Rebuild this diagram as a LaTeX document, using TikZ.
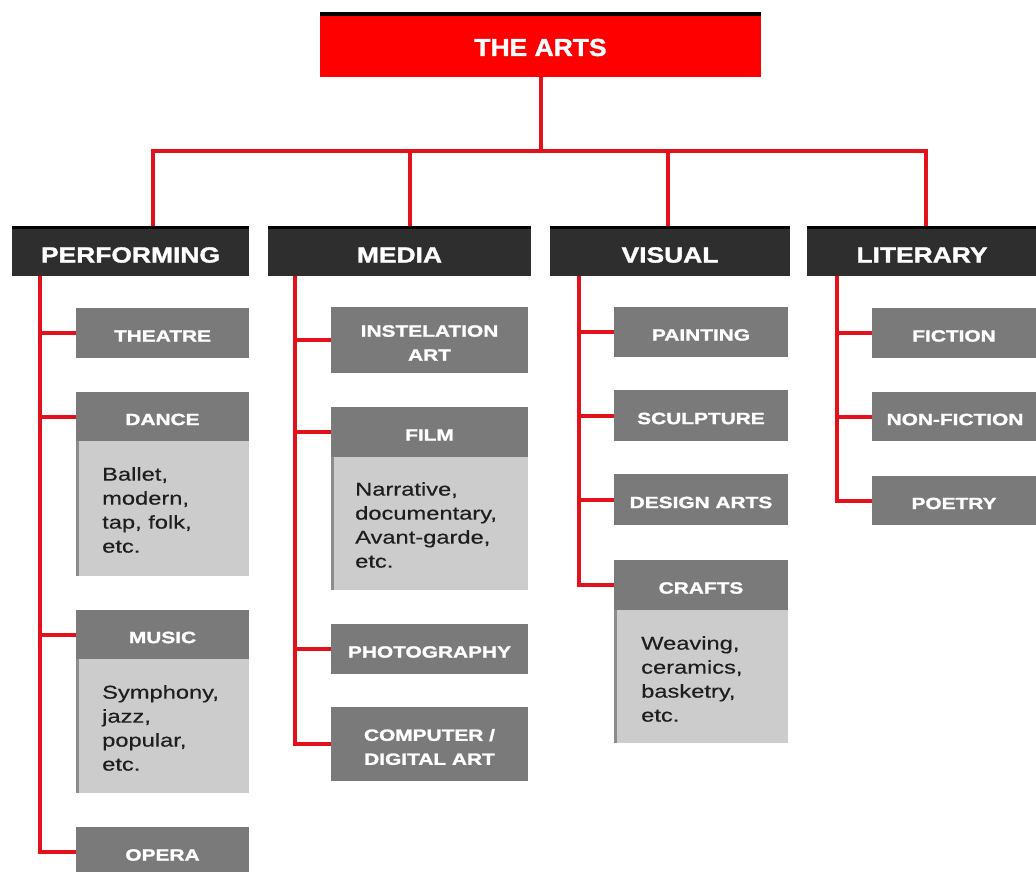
\documentclass[tikz,border=0pt]{standalone}
\usepackage{fontspec}
\setmainfont{Liberation Sans}
\newfontfamily\titlefont[FakeStretch=1.08,BoldFeatures={FakeBold=1.5}]{Liberation Sans}
\newfontfamily\catfont[FakeStretch=1.2,BoldFeatures={FakeBold=1.5}]{Liberation Sans}
\newfontfamily\subfont[FakeStretch=1.28,BoldFeatures={FakeBold=1.5}]{Liberation Sans}
\newfontfamily\bodyfont[FakeStretch=1.28,FakeBold=0.4]{Liberation Sans}
\definecolor{artred}{HTML}{FF0000}
\definecolor{linkred}{HTML}{E3111B}
\definecolor{catgray}{HTML}{2E2E2E}
\definecolor{subgray}{HTML}{7A7A7A}
\definecolor{bodygray}{HTML}{CCCCCC}
\definecolor{bodyedge}{HTML}{8C8C8C}
\definecolor{bodytextc}{HTML}{1E1E1E}
\tikzset{
  box/.style={anchor=north west, inner sep=0pt, outer sep=0pt},
  topband/.style={path picture={\fill[black] (path picture bounding box.north west) rectangle ([yshift=-#1]path picture bounding box.north east);}},
  boxtext/.style={text=white, align=center, inner sep=0pt, yshift=-3pt},
  titlebox/.style={box, fill=artred, topband=4pt,
    label={[boxtext, font=\titlefont\bfseries\fontsize{24.5}{28}\selectfont]center:#1}},
  catbox/.style={box, fill=catgray, topband=3pt, minimum height=50pt,
    label={[boxtext, yshift=-1pt, font=\catfont\bfseries\fontsize{22}{24}\selectfont]center:#1}},
  subbox/.style={box, fill=subgray,
    label={[boxtext, font=\subfont\bfseries\fontsize{16.3}{24}\selectfont]center:#1}},
  bodybox/.style={box, fill=bodygray, path picture={\fill[bodyedge] (path picture bounding box.north west) rectangle ([xshift=2.5pt]path picture bounding box.south west);}},
  bodytext/.style={anchor=north west, inner sep=0pt, align=left, text=bodytextc, font=\bodyfont\fontsize{18.5}{24}\selectfont},
  link/.style={draw=linkred, line width=4pt, line join=miter}
}
\begin{document}
\begin{tikzpicture}[x=1pt,y=-1pt]
\useasboundingbox (0,0) rectangle (1036,872);
% title
\node[titlebox={THE ARTS}, minimum width=441pt, minimum height=65pt] (arts) at (320,12) {};
% categories
\node[catbox={PERFORMING}, minimum width=237pt] (perf) at (12,226) {};
\node[catbox={MEDIA}, minimum width=263pt] (media) at (268,226) {};
\node[catbox={VISUAL}, minimum width=240pt] (vis) at (550,226) {};
\node[catbox={\hspace*{-10pt}LITERARY}, minimum width=240pt] (lit) at (807,226) {};
% performing
\node[subbox={THEATRE}, minimum width=173pt, minimum height=50pt] (theatre) at (76,308) {};
\node[subbox={DANCE}, minimum width=173pt, minimum height=49pt] (dance) at (76,392) {};
\node[bodybox, minimum width=173pt, minimum height=135pt] (danceb) at (76,441) {};
\node[bodytext] (dancet) at (102,467) {Ballet,\\modern,\\tap, folk,\\etc.};
\node[subbox={MUSIC}, minimum width=173pt, minimum height=49pt] (music) at (76,610) {};
\node[bodybox, minimum width=173pt, minimum height=134pt] (musicb) at (76,659) {};
\node[bodytext] (musict) at (102,685) {Symphony,\\jazz,\\popular,\\etc.};
\node[subbox={OPERA}, minimum width=173pt, minimum height=50pt] (opera) at (76,827) {};
% media
\node[subbox={INSTELATION\\ART}, minimum width=197pt, minimum height=66pt] (inst) at (331,307) {};
\node[subbox={FILM}, minimum width=197pt, minimum height=50pt] (film) at (331,407) {};
\node[bodybox, minimum width=197pt, minimum height=133pt] (filmb) at (331,457) {};
\node[bodytext] (filmt) at (355,482) {Narrative,\\documentary,\\Avant-garde,\\etc.};
\node[subbox={PHOTOGRAPHY}, minimum width=197pt, minimum height=50pt] (photo) at (331,624) {};
\node[subbox={COMPUTER /\\DIGITAL ART}, minimum width=197pt, minimum height=74pt] (comp) at (331,707) {};
% visual
\node[subbox={PAINTING}, minimum width=174pt, minimum height=50pt] (paint) at (614,307) {};
\node[subbox={SCULPTURE}, minimum width=174pt, minimum height=51pt] (sculp) at (614,390) {};
\node[subbox={DESIGN ARTS}, minimum width=174pt, minimum height=51pt] (design) at (614,474) {};
\node[subbox={CRAFTS}, minimum width=174pt, minimum height=50pt] (crafts) at (614,560) {};
\node[bodybox, minimum width=174pt, minimum height=133pt] (craftsb) at (614,610) {};
\node[bodytext] (craftst) at (641,636) {Weaving,\\ceramics,\\basketry,\\etc.};
% literary
\node[subbox={\hspace*{-12pt}FICTION}, minimum width=176pt, minimum height=50pt] (fic) at (872,308) {};
\node[subbox={\hspace*{-10pt}NON-FICTION}, minimum width=176pt, minimum height=49pt] (nonfic) at (872,392) {};
\node[subbox={\hspace*{-12pt}POETRY}, minimum width=176pt, minimum height=49pt] (poetry) at (872,476) {};
% top connectors
\coordinate (b1) at (153,151);
\coordinate (b2) at (410,151);
\coordinate (b3) at (668,151);
\coordinate (b4) at (926,151);
\draw[link] (b1 |- perf.north) -- (b1) -- (b4) -- (b4 |- lit.north);
\draw[link] (arts.south) -- (arts.south |- b1);
\draw[link] (b2) -- (b2 |- media.north);
\draw[link] (b3) -- (b3 |- vis.north);
% performing spine
\draw[link] ([xshift=28pt]perf.south west) |- (theatre.west);
\draw[link] ([xshift=28pt]perf.south west) |- (dance.west);
\draw[link] ([xshift=28pt]perf.south west) |- (music.west);
\draw[link] ([xshift=28pt]perf.south west) |- (opera.west);
% media spine
\draw[link] ([xshift=27pt]media.south west) |- (inst.west);
\draw[link] ([xshift=27pt]media.south west) |- (film.west);
\draw[link] ([xshift=27pt]media.south west) |- (photo.west);
\draw[link] ([xshift=27pt]media.south west) |- (comp.west);
% visual spine
\draw[link] ([xshift=29pt]vis.south west) |- (paint.west);
\draw[link] ([xshift=29pt]vis.south west) |- (sculp.west);
\draw[link] ([xshift=29pt]vis.south west) |- (design.west);
\draw[link] ([xshift=29pt]vis.south west) |- (crafts.west);
% literary spine
\draw[link] ([xshift=30pt]lit.south west) |- (fic.west);
\draw[link] ([xshift=30pt]lit.south west) |- (nonfic.west);
\draw[link] ([xshift=30pt]lit.south west) |- (poetry.west);
\end{tikzpicture}
\end{document}
